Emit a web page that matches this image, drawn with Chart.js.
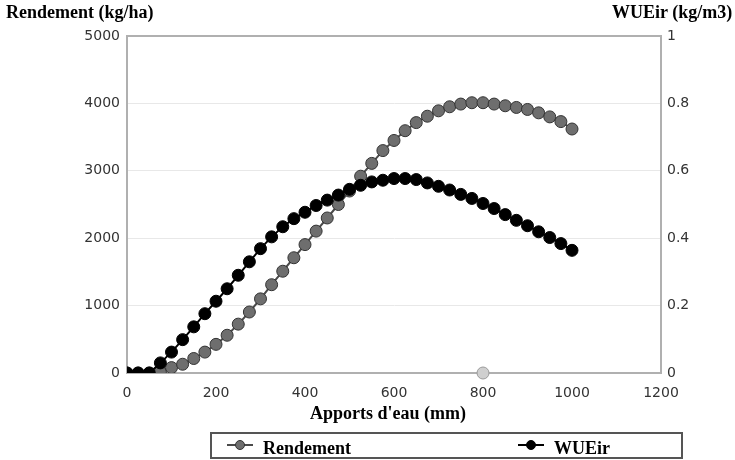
<!DOCTYPE html>
<html>
<head>
<meta charset="utf-8">
<script src="https://cdn.jsdelivr.net/npm/chart.js@4/dist/chart.umd.min.js"></script>
<style>
  html, body { margin: 0; padding: 0; background: #fff; }
  #wrap { position: relative; width: 735px; height: 460px; overflow: hidden; }
  canvas { position: absolute; left: 0; top: 0; }
  .t { position: absolute; font: bold 18px "Liberation Serif", "Times New Roman", serif; line-height: 18px; color: #000; white-space: nowrap; }
  #legend { position: absolute; left: 210px; top: 432px; width: 469px; height: 23px; border: 2px solid #555; box-sizing: content-box; }
  .li { position: absolute; top: 0; height: 23px; }
  .ico { position: absolute; top: 10px; width: 26px; height: 2px; }
  .dot { position: absolute; top: -4px; left: 8px; width: 10px; height: 10px; border-radius: 50%; box-sizing: border-box; border: 1px solid #333; }
  .lt { position: absolute; left: 36px; top: 5px; }
</style>
</head>
<body>
<div id="wrap">
  <canvas id="c" width="735" height="460"></canvas>
  <div class="t" style="left:6px;top:3px;">Rendement (kg/ha)</div>
  <div class="t" style="left:612px;top:3px;">WUEir (kg/m3)</div>
  <div class="t" style="left:310px;top:404px;">Apports d'eau (mm)</div>
  <div id="legend"></div>
</div>
<script>
// ---- data ----
const apports = [0,25,50,75,100,125,150,175,200,225,250,275,300,325,350,375,400,425,450,475,500,
                 525,550,575,600,625,650,675,700,725,750,775,800,825,850,875,900,925,950,975,1000];
const rendement = [0,0,0,15,80,130,215,310,425,560,725,905,1100,1310,1510,1710,1905,2105,2300,2500,2700,
                   2920,3110,3300,3450,3595,3715,3810,3890,3950,3990,4010,4010,3990,3965,3940,3910,3860,3800,3730,3620];
const wueir = [0,0,0,0.030,0.062,0.099,0.137,0.176,0.213,0.250,0.290,0.330,0.369,0.404,0.434,0.458,0.477,0.497,0.513,0.528,0.545,
               0.557,0.567,0.572,0.577,0.577,0.574,0.564,0.554,0.543,0.530,0.518,0.503,0.488,0.470,0.453,0.437,0.419,0.402,0.384,0.364];
const strayMarker = [{x: 800, y: 0}];
const seriesNames = ["Rendement", "WUEir"];
const xTicks = [0,200,400,600,800,1000,1200];
const yLeftTicks = [0,1000,2000,3000,4000,5000];
const yRightTicks = [0,0.2,0.4,0.6,0.8,1];

const pts = (ys) => apports.map((x, i) => ({x, y: ys[i]}));
const tickFont = {family: "DejaVu Sans", size: 14};
const plain = (v) => String(v);

const chart = new Chart(document.getElementById('c'), {
  type: 'line',
  data: {
    datasets: [
      { label: seriesNames[1], data: pts(wueir), yAxisID: 'y1', order: 0,
        borderColor: '#000', borderWidth: 2, backgroundColor: '#000',
        pointBackgroundColor: '#000', pointBorderColor: '#000', pointBorderWidth: 1, pointRadius: 6 },
      { label: seriesNames[0], data: pts(rendement), yAxisID: 'y', order: 1,
        borderColor: '#4a4a4a', borderWidth: 2, backgroundColor: '#6e6e6e',
        pointBackgroundColor: '#6e6e6e', pointBorderColor: '#333', pointBorderWidth: 1, pointRadius: 6 },
      { label: '', data: strayMarker, yAxisID: 'y', order: 2, showLine: false, clip: false,
        pointBackgroundColor: '#cfcfcf', pointBorderColor: '#9a9a9a', pointBorderWidth: 1, pointRadius: 6 }
    ]
  },
  options: {
    responsive: false, animation: false,
    layout: { padding: { top: 36, left: 0, right: 0, bottom: 0 } },
    plugins: { legend: { display: false }, tooltip: { enabled: false } },
    scales: {
      x: {
        type: 'linear', min: 0, max: 1200,
        afterBuildTicks: (s) => { s.ticks = xTicks.map(v => ({value: v})); },
        afterFit: (s) => { s.height = 87; },
        grid: { drawOnChartArea: false, drawTicks: false },
        border: { color: '#b0b0b0', width: 2 },
        ticks: { color: '#333', font: tickFont, padding: 12, maxRotation: 0, callback: plain }
      },
      y: {
        position: 'left', min: 0, max: 5000,
        afterBuildTicks: (s) => { s.ticks = yLeftTicks.map(v => ({value: v})); },
        afterFit: (s) => { s.width = 127; },
        grid: { drawTicks: false, lineWidth: (ctx) => (ctx.tick && (ctx.tick.value === 5000)) ? 2 : 1,
                color: (ctx) => (ctx.tick && (ctx.tick.value === 5000 || ctx.tick.value === 0)) ? '#b0b0b0' : '#e8e8e8' },
        border: { color: '#b0b0b0', width: 2 },
        ticks: { color: '#333', font: tickFont, padding: 7, callback: plain }
      },
      y1: {
        position: 'right', min: 0, max: 1,
        afterBuildTicks: (s) => { s.ticks = yRightTicks.map(v => ({value: v})); },
        afterFit: (s) => { s.width = 74; },
        grid: { drawOnChartArea: false, drawTicks: false },
        border: { color: '#b0b0b0', width: 2 },
        ticks: { color: '#333', font: tickFont, padding: 6, callback: plain }
      }
    }
  }
});

// HTML legend built from the datasets
const legend = document.getElementById('legend');
const order = [1, 0];
const lefts = [15, 306];
order.forEach((di, k) => {
  const ds = chart.data.datasets[di];
  const item = document.createElement('div');
  item.className = 'li';
  item.style.left = lefts[k] + 'px';
  const ico = document.createElement('div');
  ico.className = 'ico';
  ico.style.background = ds.borderColor;
  const dot = document.createElement('div');
  dot.className = 'dot';
  dot.style.background = ds.pointBackgroundColor;
  dot.style.borderColor = ds.pointBorderColor;
  ico.appendChild(dot);
  const txt = document.createElement('div');
  txt.className = 't lt';
  txt.textContent = ds.label;
  item.appendChild(ico);
  item.appendChild(txt);
  legend.appendChild(item);
});
</script>
</body>
</html>
